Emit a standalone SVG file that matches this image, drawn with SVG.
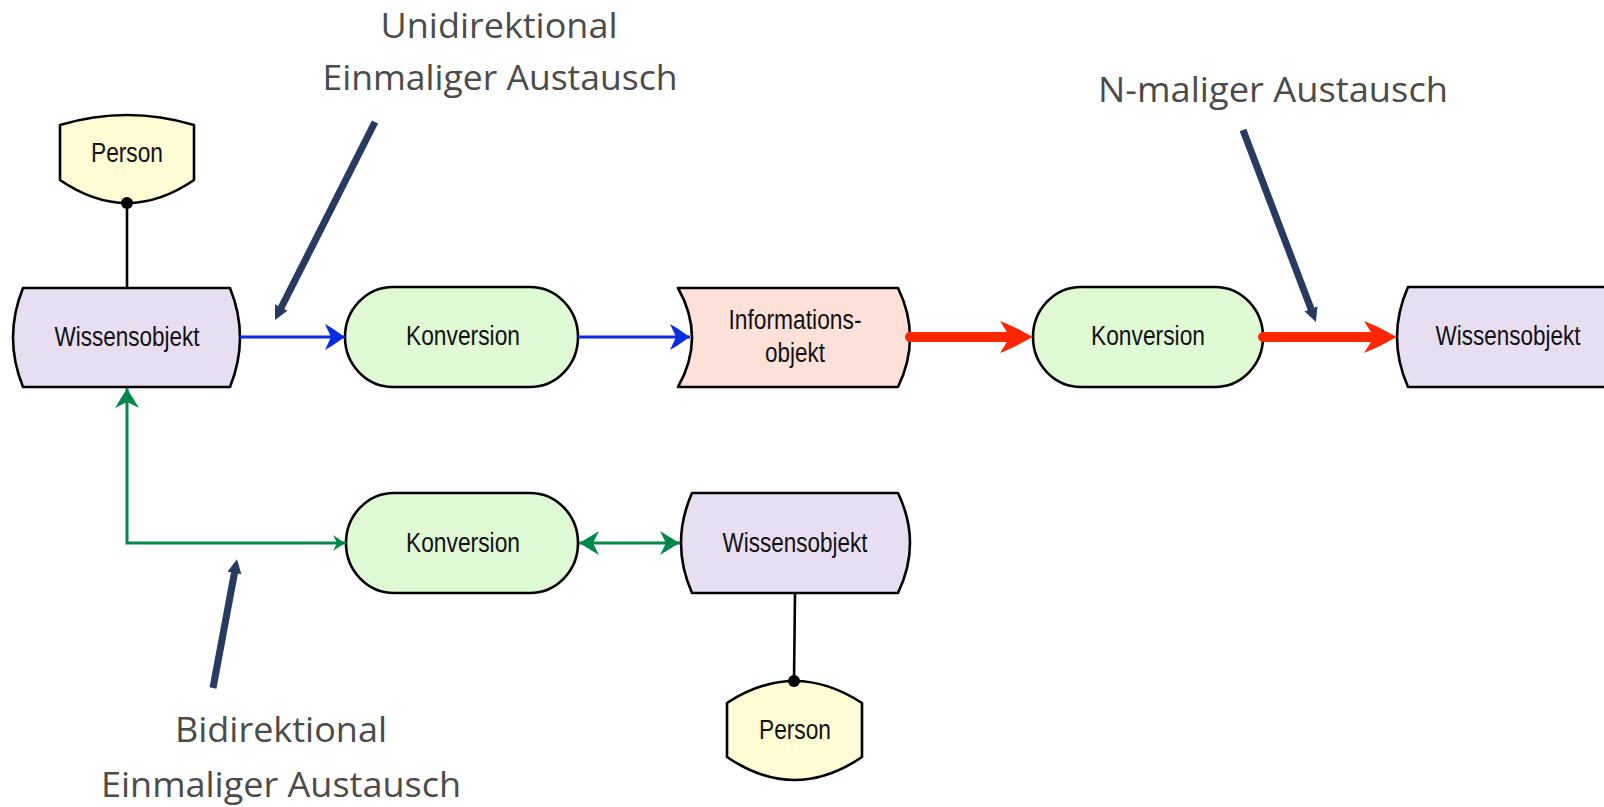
<svg xmlns="http://www.w3.org/2000/svg" width="1604" height="807" viewBox="0 0 1604 807">
  <style>
    .node-shape { stroke: #000; stroke-width: 2.6; stroke-linejoin: round; }
    .wissen { fill: #e8def2; }
    .konv { fill: #e0f9d5; }
    .info { fill: #fde1d9; }
    .person { fill: #fffcd5; }
    .node-label { font-family: "Liberation Sans", Arial, sans-serif; font-size: 27px; fill: #111; text-anchor: middle; }
    .callout-label { font-family: "Open Sans", "Noto Sans", sans-serif; font-size: 35px; fill: #4b4b4b; text-anchor: middle; }
    .assoc { stroke: #000; stroke-width: 2.6; fill: none; }
    .blue { stroke: #0b2de0; stroke-width: 3; fill: none; }
    .red { stroke: #ff2600; stroke-width: 10; fill: none; stroke-linecap: round; }
    .green { stroke: #00874a; stroke-width: 3; fill: none; }
    .callout { stroke: #283a5f; stroke-width: 7; fill: none; }
  </style>
  <defs>
    <marker id="blueHead" markerUnits="userSpaceOnUse" markerWidth="22" markerHeight="30" refX="20" refY="14" orient="auto">
      <path d="M20,14 C16,12 11,7 0,1 L6,14 L0,27 C11,21 16,16 20,14 Z" fill="#0b2de0"/>
    </marker>
    <marker id="redHead" markerUnits="userSpaceOnUse" markerWidth="36" markerHeight="34" refX="13" refY="16" orient="auto">
      <path d="M33,16 C28,14 20,8 0,0 L10,16 L0,32 C20,24 28,18 33,16 Z" fill="#ff2600"/>
    </marker>
    <marker id="greenHead" markerUnits="userSpaceOnUse" markerWidth="16" markerHeight="18" refX="13" refY="8" orient="auto-start-reverse">
      <path d="M13,8 C10,7 6,4 0,0 L4,8 L0,16 C6,12 10,9 13,8 Z" fill="#00874a"/>
    </marker>
    <marker id="greenHeadWide" markerUnits="userSpaceOnUse" markerWidth="22" markerHeight="26" refX="20" refY="12" orient="auto-start-reverse">
      <path d="M20,12 C16,10 10,6 0,0 L6,12 L0,24 C10,18 16,14 20,12 Z" fill="#00874a"/>
    </marker>
    <marker id="calloutHead" markerUnits="userSpaceOnUse" markerWidth="16" markerHeight="16" refX="4" refY="7" orient="auto">
      <path d="M14,7 L0,0 L0,14 Z" fill="#283a5f"/>
    </marker>
  </defs>

  <!-- nodes -->
  <g id="person-1">
    <path class="node-shape person" d="M60,125 Q127,105 194,125 L194,180 Q127,226 60,180 Z"/>
    <text class="node-label" x="127" y="162" textLength="72" lengthAdjust="spacingAndGlyphs">Person</text>
  </g>
  <g id="wissensobjekt-1">
    <path class="node-shape wissen" d="M23,288 L230,288 Q250,337.5 230,387 L23,387 Q3,337.5 23,288 Z"/>
    <text class="node-label" x="127" y="346" textLength="145" lengthAdjust="spacingAndGlyphs">Wissensobjekt</text>
  </g>
  <g id="konversion-1">
    <rect class="node-shape konv" x="345" y="287" width="233" height="100" rx="48" ry="50"/>
    <text class="node-label" x="463" y="345" textLength="114" lengthAdjust="spacingAndGlyphs">Konversion</text>
  </g>
  <g id="informationsobjekt">
    <path class="node-shape info" d="M678,288 L898,288 Q922,337.5 898,387 L678,387 Q706,337.5 678,288 Z"/>
    <text class="node-label" x="795" y="329" textLength="133" lengthAdjust="spacingAndGlyphs">Informations-</text>
    <text class="node-label" x="795" y="362" textLength="60" lengthAdjust="spacingAndGlyphs">objekt</text>
  </g>
  <g id="konversion-2">
    <rect class="node-shape konv" x="1033" y="287" width="230" height="100" rx="48" ry="50"/>
    <text class="node-label" x="1148" y="345" textLength="114" lengthAdjust="spacingAndGlyphs">Konversion</text>
  </g>
  <g id="wissensobjekt-2">
    <path class="node-shape wissen" d="M1408,287 L1620,287 L1620,387 L1408,387 Q1386,337 1408,287 Z"/>
    <text class="node-label" x="1508" y="345" textLength="145" lengthAdjust="spacingAndGlyphs">Wissensobjekt</text>
  </g>
  <g id="konversion-3">
    <rect class="node-shape konv" x="346" y="493" width="232" height="100" rx="48" ry="50"/>
    <text class="node-label" x="463" y="552" textLength="114" lengthAdjust="spacingAndGlyphs">Konversion</text>
  </g>
  <g id="wissensobjekt-3">
    <path class="node-shape wissen" d="M692,493 L898,493 Q922,543 898,593 L692,593 Q670,543 692,493 Z"/>
    <text class="node-label" x="795" y="552" textLength="145" lengthAdjust="spacingAndGlyphs">Wissensobjekt</text>
  </g>
  <g id="person-2">
    <path class="node-shape person" d="M727,703 Q794.5,659 862,703 L862,757 Q794.5,803 727,757 Z"/>
    <text class="node-label" x="795" y="739" textLength="72" lengthAdjust="spacingAndGlyphs">Person</text>
  </g>

  <!-- connectors -->
  <g id="connectors">
    <line class="assoc" x1="127" y1="203" x2="127" y2="288"/>
    <circle cx="127" cy="203" r="6" fill="#000"/>
    <line class="assoc" x1="795" y1="593" x2="794" y2="681"/>
    <circle cx="794" cy="681" r="6" fill="#000"/>

    <line class="blue" x1="240" y1="337" x2="345" y2="337" marker-end="url(#blueHead)"/>
    <line class="blue" x1="578" y1="337" x2="690" y2="337" marker-end="url(#blueHead)"/>

    <line class="red" x1="910" y1="337" x2="1013" y2="337" marker-end="url(#redHead)"/>
    <line class="red" x1="1263" y1="337" x2="1377" y2="337" marker-end="url(#redHead)"/>

    <path class="green" d="M346,543 L127,543 L127,388" marker-start="url(#greenHead)" marker-end="url(#greenHeadWide)"/>
    <line class="green" x1="579" y1="543" x2="680" y2="543" stroke-width="3.5" marker-start="url(#greenHeadWide)" marker-end="url(#greenHeadWide)"/>

    <line class="callout" x1="375" y1="122" x2="279.5" y2="311" marker-end="url(#calloutHead)"/>
    <line class="callout" x1="1243" y1="130" x2="1312.4" y2="312.6" marker-end="url(#calloutHead)"/>
    <line class="callout" x1="213" y1="688" x2="235.2" y2="569" marker-end="url(#calloutHead)"/>
  </g>

  <!-- annotations -->
  <g id="label-unidirektional">
    <text class="callout-label" x="499" y="38" textLength="237" lengthAdjust="spacingAndGlyphs">Unidirektional</text>
    <text class="callout-label" x="500" y="90" textLength="355" lengthAdjust="spacingAndGlyphs">Einmaliger Austausch</text>
  </g>
  <g id="label-n-malig">
    <text class="callout-label" x="1273" y="102" textLength="350" lengthAdjust="spacingAndGlyphs">N-maliger Austausch</text>
  </g>
  <g id="label-bidirektional">
    <text class="callout-label" x="281" y="742" textLength="212" lengthAdjust="spacingAndGlyphs">Bidirektional</text>
    <text class="callout-label" x="281" y="797" textLength="360" lengthAdjust="spacingAndGlyphs">Einmaliger Austausch</text>
  </g>
</svg>
